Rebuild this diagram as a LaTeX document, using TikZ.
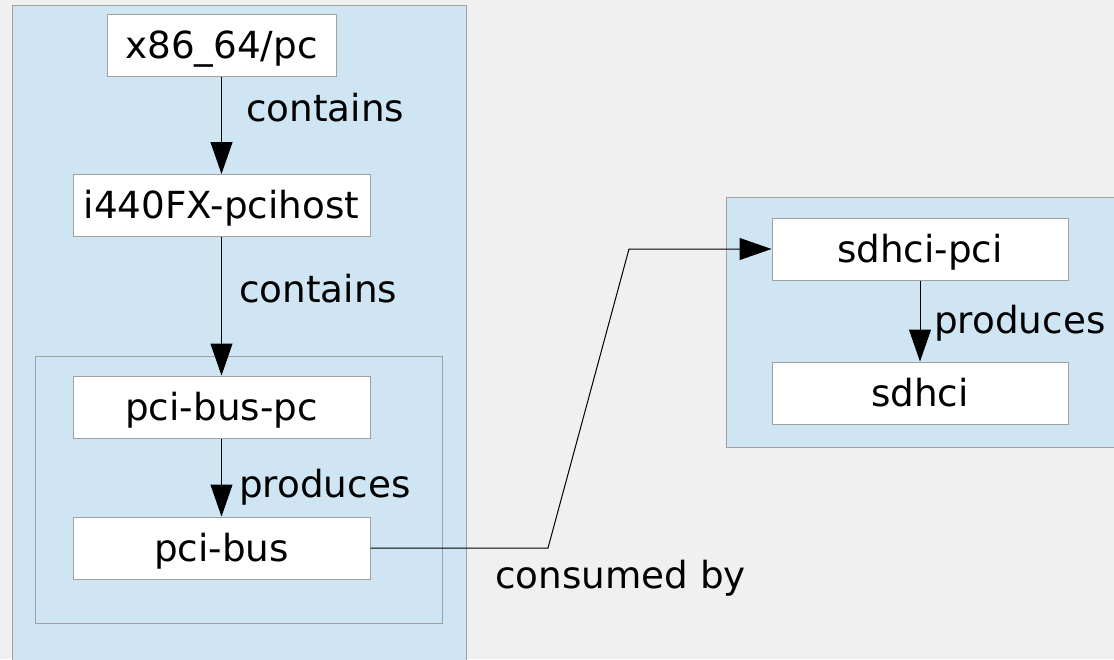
\documentclass[tikz,border=0pt]{standalone}
\usepackage{fontspec}
\setmainfont{DejaVu Sans}
\usepackage{tikz}
\usetikzlibrary{arrows.meta}
\definecolor{bggray}{RGB}{240,240,240}
\definecolor{panelblue}{RGB}{207,229,243}
\definecolor{rimgray}{RGB}{160,160,160}

\begin{document}
\begin{tikzpicture}[x=1pt, y=-1pt, font=\fontsize{37.3}{45}\selectfont,
  box/.style={draw=rimgray, fill=white, line width=1pt, minimum height=62pt,
    text height=26pt, text depth=0pt, inner sep=0pt},
  grp/.style={draw=rimgray, fill=panelblue, line width=1pt},
  lbl/.style={anchor=base west, inner sep=0pt},
  link/.style={->, >={Triangle[length=32pt,width=22pt]}, line width=1pt}]
\fill[bggray] (0,0) rectangle (1114,659);
\useasboundingbox (0,0) rectangle (1114,659);
% groups
\draw[grp] (12,5) rectangle (466,690);
\draw[grp] (35,356) rectangle (442,623);
\draw[grp] (726,197) rectangle (1130,447);
% objects
\node[box, minimum width=229pt] at (221.5,45.5) (pc) {x86\_64/pc};
\node[box, minimum width=297pt] at (221.5,205.5) (host) {i440FX-pcihost};
\node[box, minimum width=297pt] at (221.5,407) (buspc) {pci-bus-pc};
\node[box, minimum width=297pt] at (221.5,548) (bus) {pci-bus};
\node[box, minimum width=296pt] at (920,249) (sdpci) {sdhci-pci};
\node[box, minimum width=296pt] at (920,393) (sd) {sdhci};
% labels
\node[lbl] at (246,121) (l1) {contains};
\node[lbl] at (239,302) (l2) {contains};
\node[lbl] at (239,497) (l3) {produces};
\node[lbl] at (934,333) (l4) {produces};
\node[lbl] at (495,588) (l5) {consumed by};
% links
\path[link] (pc) edge (host);
\path[link] (host) edge (buspc);
\path[link] (buspc) edge (bus);
\path[link] (sdpci) edge (sd);
\coordinate (k1) at (548,548);
\coordinate (k2) at (629,249);
\draw[link] (bus) -- (k1) -- (k2) -- (sdpci);
\end{tikzpicture}
\end{document}
